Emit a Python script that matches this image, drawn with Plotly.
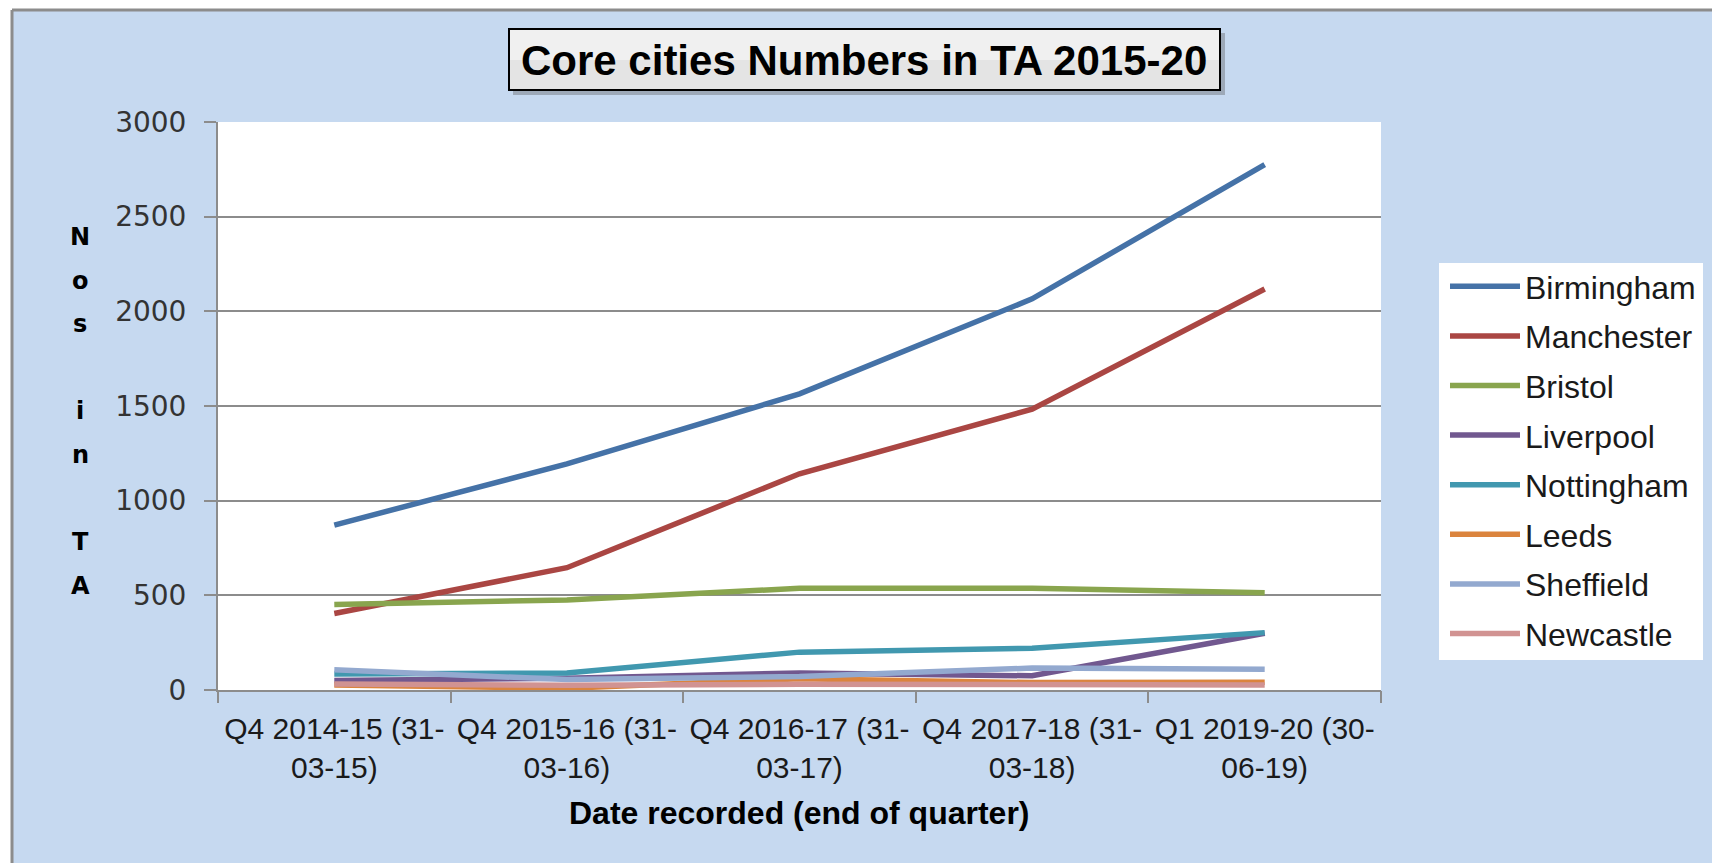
import plotly.graph_objects as go

categories = ["Q4 2014-15 (31-<br>03-15)", "Q4 2015-16 (31-<br>03-16)", "Q4 2016-17 (31-<br>03-17)",
              "Q4 2017-18 (31-<br>03-18)", "Q1 2019-20 (30-<br>06-19)"]
birmingham = [871, 1194, 1564, 2066, 2775]
manchester = [404, 646, 1142, 1483, 2118]
bristol = [452, 476, 537, 537, 514]
liverpool = [50, 62, 90, 75, 300]
nottingham = [84, 90, 200, 220, 303]
leeds = [27, 9, 60, 39, 41]
sheffield = [107, 55, 71, 116, 110]
newcastle = [32, 25, 30, 27, 27]

series_names = ["Birmingham", "Manchester", "Bristol", "Liverpool", "Nottingham", "Leeds", "Sheffield", "Newcastle"]
series_values = [birmingham, manchester, bristol, liverpool, nottingham, leeds, sheffield, newcastle]
colors = ["#4572A7", "#AA4643", "#89A54E", "#71588F", "#4198AF", "#DB843D", "#93A9CF", "#D19392"]

title_text = "Core cities Numbers in TA 2015-20"
y_title = "Nos in TA"
x_title = "Date recorded (end of quarter)"

W, H = 1712, 863
L, R, T, B = 218, 1712 - 1381, 122, 863 - 690
PW, PH = W - L - R, H - T - B


def px_x(px):
    return (px - L) / PW


def px_y(py):
    return (H - B - py) / PH


FONT = "Liberation Sans, Arial, sans-serif"

fig = go.Figure()
for i, (name, vals) in enumerate(zip(series_names, series_values)):
    fig.add_trace(go.Scatter(x=list(range(len(categories))), y=vals, mode="lines", name=name,
                             legendgroup=name,
                             line=dict(color=colors[i], width=5.5)))

shapes = []
# white strips outside the chart area (top and left)
shapes.append(dict(type="rect", xref="paper", yref="paper", x0=px_x(-20), x1=px_x(12), y0=px_y(H + 20), y1=px_y(-20),
                   fillcolor="white", line=dict(width=0), layer="below"))
shapes.append(dict(type="rect", xref="paper", yref="paper", x0=px_x(-20), x1=px_x(W + 20), y0=px_y(10), y1=px_y(-20),
                   fillcolor="white", line=dict(width=0), layer="below"))
# chart border
shapes.append(dict(type="line", xref="paper", yref="paper", x0=px_x(12), x1=px_x(12), y0=px_y(10), y1=px_y(H + 20),
                   line=dict(color="#8C8C8C", width=3), layer="below"))
shapes.append(dict(type="line", xref="paper", yref="paper", x0=px_x(12), x1=px_x(W + 20), y0=px_y(10), y1=px_y(10),
                   line=dict(color="#8C8C8C", width=3), layer="below"))
# legend box
shapes.append(dict(type="rect", xref="paper", yref="paper", x0=px_x(1439), x1=px_x(1703), y0=px_y(660), y1=px_y(263),
                   fillcolor="white", line=dict(width=0), layer="below"))
# title box shadow + box
shapes.append(dict(type="rect", xref="paper", yref="paper", x0=px_x(513), x1=px_x(1225), y0=px_y(95), y1=px_y(33),
                   fillcolor="rgba(80,80,80,0.35)", line=dict(width=0)))
shapes.append(dict(type="rect", xref="paper", yref="paper", x0=px_x(509), x1=px_x(1220), y0=px_y(90), y1=px_y(29),
                   fillcolor="#E4E4E4", line=dict(color="black", width=2)))
shapes.append(dict(type="rect", xref="paper", yref="paper", x0=px_x(510), x1=px_x(1219), y0=px_y(60), y1=px_y(30),
                   fillcolor="#F0F0F0", line=dict(width=0)))

annotations = []
annotations.append(dict(text="<b>" + title_text + "</b>", xref="paper", yref="paper", x=px_x(864), y=px_y(60),
                        xanchor="center", yanchor="middle", showarrow=False,
                        font=dict(family=FONT, size=42, color="black")))
for i, ch in enumerate(y_title):
    if ch == " ":
        continue
    annotations.append(dict(text="<b>" + ch + "</b>", xref="paper", yref="paper", x=px_x(80),
                            y=px_y(237 + i * 43.6), xanchor="center", yanchor="middle", showarrow=False,
                            font=dict(family="DejaVu Sans", size=24, color="black")))
annotations.append(dict(text="<b>" + x_title + "</b>", xref="paper", yref="paper", x=px_x(799), y=px_y(813),
                        xanchor="center", yanchor="middle", showarrow=False,
                        font=dict(family=FONT, size=32, color="black")))

fig.update_layout(
    width=W, height=H,
    margin=dict(l=L, r=R, t=T, b=B, pad=0, autoexpand=False),
    paper_bgcolor="#C6D9F0",
    plot_bgcolor="white",
    shapes=shapes,
    annotations=annotations,
    showlegend=True,
    legend=dict(x=px_x(1445), y=px_y(259), xanchor="left", yanchor="top",
                bgcolor="rgba(0,0,0,0)", font=dict(family=FONT, size=32, color="#1A1A1A"),
                tracegroupgap=5, itemwidth=70),
    xaxis=dict(
        tickmode="array", tickvals=list(range(len(categories))), ticktext=categories,
        range=[-0.5, len(categories) - 0.5], showgrid=False, zeroline=False,
        showline=True, linecolor="#8C8C8C", linewidth=2, automargin=False, tickangle=0,
        tickfont=dict(family=FONT, size=30, color="#1A1A1A"), ticklabelstandoff=11,
        ticks="", fixedrange=True,
    ),
    yaxis=dict(
        range=[0, 3000], dtick=500, tick0=0, showgrid=True, gridcolor="#8C8C8C", gridwidth=1.5,
        zeroline=False, showline=True, linecolor="#8C8C8C", linewidth=2, automargin=False,
        ticks="outside", ticklen=12, tickcolor="#8C8C8C", tickwidth=1.5, ticklabelstandoff=12,
        tickfont=dict(family="DejaVu Sans", size=28, color="#333333"), fixedrange=True,
    ),
)

# boundary tick marks for the category axis via a secondary overlaying axis
fig.update_layout(xaxis2=dict(overlaying="x", matches="x", side="bottom", anchor="y", automargin=False,
                              tickmode="array", tickvals=[i - 0.5 for i in range(len(categories) + 1)],
                              showticklabels=False, ticks="outside", ticklen=12, tickcolor="#8C8C8C",
                              tickwidth=1.5, showgrid=False, zeroline=False, showline=False))
fig.add_trace(go.Scatter(x=[0], y=[None], xaxis="x2", showlegend=False, hoverinfo="skip"))

fig.write_html("out.html", config={"displayModeBar": False},
               post_script="document.body.style.margin='0';document.body.style.overflow='hidden';")
